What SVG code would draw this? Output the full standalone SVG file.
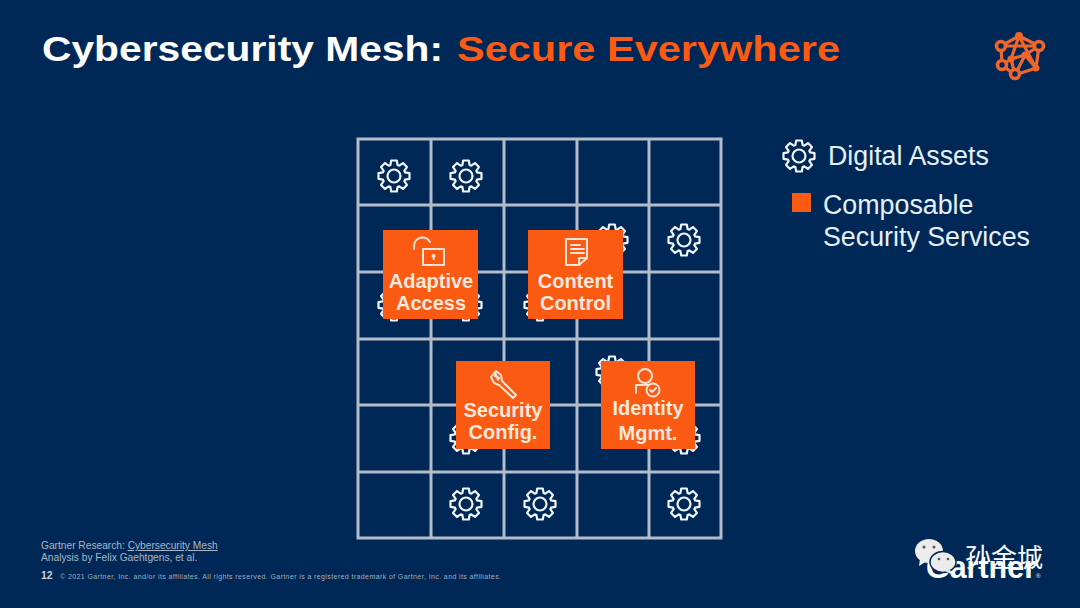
<svg xmlns="http://www.w3.org/2000/svg" width="1080" height="608" viewBox="0 0 1080 608">
<style>
text{font-family:"Liberation Sans",Arial,"Noto Sans CJK SC",sans-serif}
.grid line{stroke:#b3bcc9;stroke-width:3}
.gear{fill:none;stroke:#f2f6fa;stroke-width:2.2;stroke-linejoin:round}
.box{fill:#fb5a12}
.lbl{fill:#fde9dd;font-weight:700;font-size:20px;text-anchor:middle}
.ico{fill:none;stroke:#fde4d6;stroke-width:2;stroke-linejoin:round;stroke-linecap:round}
.leg{fill:#e6f0f8;font-size:26.8px}
.foot{fill:#a9b6c6;font-size:10.2px}
.mesh{stroke:#f0652a;stroke-width:3.2;fill:none}
</style>
<defs>
<g id="g"><path d="M-3.6-11-2.8-15.500 2.8-15.500 3.6-11 5.23-10.32 8.98-12.94 12.94-8.98 10.32-5.23 11-3.6 15.500-2.8 15.500 2.8 11 3.6 10.32 5.23 12.94 8.98 8.98 12.94 5.23 10.32 3.6 11 2.8 15.500-2.8 15.500-3.6 11-5.23 10.32-8.98 12.94-12.94 8.98-10.32 5.23-11 3.6-15.500 2.8-15.500-2.8-11-3.6-10.32-5.23-12.94-8.98-8.98-12.94-5.23-10.32Z"/><circle r="6.500"/></g>
</defs>
<rect width="1080" height="608" fill="#002856"/>
<text id="title" x="42" y="61" font-size="35" font-weight="700" fill="#fff" textLength="401" lengthAdjust="spacingAndGlyphs">Cybersecurity Mesh:</text>
<text x="457" y="61" font-size="35" font-weight="700" fill="#fb5a12" textLength="383" lengthAdjust="spacingAndGlyphs">Secure Everywhere</text>
<g id="mesh-logo" class="mesh">
<path d="M1019 36 1001 46 1039 46 1019 36 1011 59 1002 65 1015 75 1036 68 1019 36M1001 46 1002 65M1039 46 1036 68M1011 59 1025 55 1036 68M1025 55 1039 46M1011 59 1015 75 1025 55"/>
<g fill="#002856" stroke-width="3.600"><circle cx="1001" cy="46" r="4.500"/><circle cx="1039" cy="46" r="4.500"/><circle cx="1002" cy="65" r="4.500"/><circle cx="1015" cy="74" r="4.500"/></g>
<g fill="#f0652a" stroke="none"><circle cx="1019" cy="36" r="4"/><circle cx="1036" cy="68" r="3.500"/><circle cx="1011" cy="59" r="3.500"/><circle cx="1025" cy="55" r="3.500"/></g>
</g>
<g id="grid" class="grid">
<line x1="431" y1="139" x2="431" y2="538"/><line x1="504" y1="139" x2="504" y2="538"/><line x1="577" y1="139" x2="577" y2="538"/><line x1="649" y1="139" x2="649" y2="538"/>
<line x1="358" y1="205" x2="721" y2="205"/><line x1="358" y1="272" x2="721" y2="272"/><line x1="358" y1="339" x2="721" y2="339"/><line x1="358" y1="405" x2="721" y2="405"/><line x1="358" y1="472" x2="721" y2="472"/>
<rect x="358" y="139" width="363" height="399" fill="none" stroke="#b3bcc9" stroke-width="3"/>
</g>
<g id="assets" class="gear">
<use href="#g" x="394" y="176"/><use href="#g" x="466" y="176"/>
<use href="#g" x="612" y="240"/><use href="#g" x="684" y="240"/>
<use href="#g" x="394" y="305"/><use href="#g" x="466" y="305"/><use href="#g" x="540" y="305"/>
<use href="#g" x="612" y="372"/>
<use href="#g" x="466" y="438"/><use href="#g" x="684" y="438"/>
<use href="#g" x="466" y="504"/><use href="#g" x="540" y="504"/><use href="#g" x="684" y="504"/>
</g>
<g id="adaptive-access">
<rect class="box" x="383" y="230" width="95" height="89"/>
<path class="ico" d="M414 249V246a8.500 8.500 0 0 1 16-4"/><rect class="ico" x="423" y="249" width="21" height="16"/>
<circle cx="433.500" cy="256" r="2" fill="#fde4d6"/><rect x="432.700" y="256" width="1.800" height="4" fill="#fde4d6"/>
<text class="lbl" x="431" y="288">Adaptive</text><text class="lbl" x="431" y="310">Access</text>
</g>
<g id="content-control">
<rect class="box" x="528" y="230" width="95" height="89"/>
<path class="ico" d="M566 239H587V258L579 265H566Z"/><path class="ico" d="M579 265V258H587M571 245H580M571 249H584M571 253H584"/>
<text class="lbl" x="575.500" y="288">Content</text><text class="lbl" x="575.500" y="310">Control</text>
</g>
<g id="security-config">
<rect class="box" x="456" y="361" width="94" height="88"/>
<path class="ico" d="M495 372 491 377 494 383 499 385 513 398 516 395 502 381 501 375 496 371 495 376 499 378 498 380Z"/>
<text class="lbl" x="503" y="417">Security</text><text class="lbl" x="503" y="439">Config.</text>
</g>
<g id="identity-mgmt">
<rect class="box" x="601" y="361" width="94" height="88"/>
<circle class="ico" cx="645" cy="376" r="7"/><path class="ico" d="M636 393V385H648"/>
<circle class="ico" cx="653" cy="390" r="6.500"/><path class="ico" d="M650 390 652 392 656 388"/>
<text class="lbl" x="648" y="415">Identity</text><text class="lbl" x="648" y="440">Mgmt.</text>
</g>
<g id="legend">
<use href="#g" class="gear" x="799" y="156"/>
<text class="leg" x="828" y="165">Digital Assets</text>
<rect class="box" x="792" y="193" width="19" height="19"/>
<text class="leg" x="823" y="214">Composable</text>
<text class="leg" x="823" y="246">Security Services</text>
</g>
<g id="footer">
<text class="foot" x="41" y="549">Gartner Research: <tspan text-decoration="underline">Cybersecurity Mesh</tspan></text>
<text class="foot" x="41" y="561">Analysis by Felix Gaehtgens, et al.</text>
<text x="41" y="579" font-size="10.500" font-weight="700" fill="#c6d0dc">12</text>
<text x="60" y="579" font-size="7" fill="#9fadbf" textLength="441">© 2021 Gartner, Inc. and/or its affiliates. All rights reserved. Gartner is a registered trademark of Gartner, Inc. and its affiliates.</text>
<text id="gartner" x="926" y="578" font-size="31" font-weight="700" fill="#fff" textLength="110" lengthAdjust="spacingAndGlyphs">Gartner</text>
<text x="1036" y="578" font-size="6" fill="#fff">®</text>
</g>
<g id="watermark" fill="#ececec">
<ellipse cx="929" cy="551" rx="14" ry="12"/><path d="M920 559 919 566 927 561Z"/>
<ellipse cx="943" cy="562" rx="13" ry="10.500" stroke="#002856" stroke-width="1.500"/><path d="M950 570 953 575 945 571Z"/>
<g fill="#555"><circle cx="924" cy="547" r="1.500"/><circle cx="934" cy="547" r="1.500"/><circle cx="939" cy="559" r="1.300"/><circle cx="948" cy="559" r="1.300"/></g>
<text x="965" y="567" font-size="26" fill="#fff" style="font-family:'Noto Sans CJK SC',sans-serif">孙金城</text>
</g>
</svg>
